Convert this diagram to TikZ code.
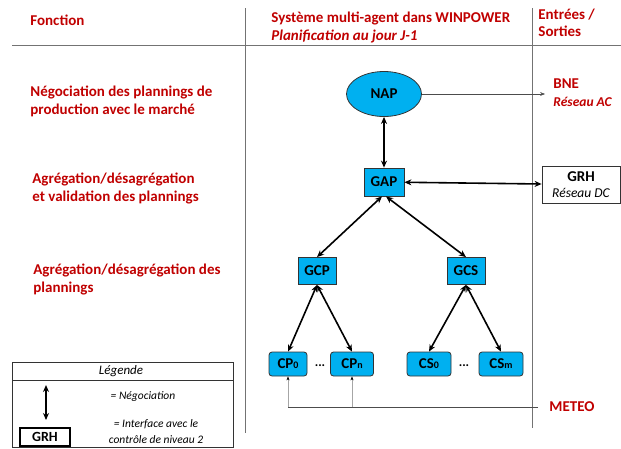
\documentclass[tikz,border=0pt]{standalone}
\usepackage{fontspec}
\setmainfont{Carlito}
\usetikzlibrary{arrows.meta, shapes.geometric}

\definecolor{titlered}{HTML}{C00000}
\definecolor{agentblue}{HTML}{00B0F0}

\begin{document}
\begin{tikzpicture}[x=1pt, y=-1pt, >=Stealth, thick,
  agent/.style={draw=black!80, fill=agentblue, font=\fontsize{15}{17}\selectfont\bfseries,
    inner sep=0pt},
  leaf/.style={agent, rounded corners=3pt, minimum height=24pt},
  redtxt/.style={text=titlered, font=\fontsize{15}{18}\selectfont\bfseries, align=left,
    inner sep=0pt},
  nego/.style={<->, line width=1.6pt, >={Stealth[length=7pt, width=6pt]}},
  sep/.style={black!55, line width=0.8pt},
  legtxt/.style={font=\fontsize{11.5}{16}\selectfont\itshape, inner sep=0pt, align=center}]

  \useasboundingbox (0,0) rectangle (621,448);

  % Column separators
  \draw[sep] (12,45) -- (621,45);
  \draw[sep] (245,8) -- (245,433);
  \draw[sep] (532,8) -- (532,428);

  % Column titles
  \node[redtxt, anchor=west] (fct) at (30,20) {Fonction};
  \node[redtxt, anchor=north west] (sma) at (271,12)
    {Système multi-agent dans WINPOWER\\\textit{Planification au jour J-1}};
  \node[redtxt, anchor=north west, font=\fontsize{15}{17}\selectfont\bfseries] (es) at (538,9)
    {Entrées /\\Sorties};

  % Functions
  \node[redtxt, anchor=west] (f1) at (30,101)
    {Négociation des plannings de\\production avec le marché};
  \node[redtxt, anchor=west] (f2) at (32,188)
    {Agrégation/désagrégation\\et validation des plannings};
  \node[redtxt, anchor=west] (f3) at (33,279)
    {Agrégation/désagrégation des\\plannings};

  % Agents
  \node[agent, ellipse, minimum width=75pt, minimum height=45pt] (nap) at (384,94) {NAP};
  \node[agent, minimum width=40pt, minimum height=28pt] (gap) at (384,182) {GAP};
  \node[agent, minimum width=38pt, minimum height=27pt] (gcp) at (317,271) {GCP};
  \node[agent, minimum width=38pt, minimum height=27pt] (gcs) at (466,271) {GCS};
  \node[leaf, minimum width=38pt] (cp0) at (288,364) {CP{\fontsize{10}{10}\selectfont 0}};
  \node[leaf, minimum width=43pt] (cpn) at (352,364) {CP{\fontsize{10}{10}\selectfont n}};
  \node[leaf, minimum width=44pt] (cs0) at (429,364) {CS{\fontsize{10}{10}\selectfont 0}};
  \node[leaf, minimum width=44pt] (csm) at (501,364) {CS{\fontsize{10}{10}\selectfont m}};
  \node[font=\fontsize{13}{13}\selectfont\bfseries] (dp) at (320,366) {...};
  \node[font=\fontsize{13}{13}\selectfont\bfseries] (ds) at (464,366) {...};

  % Inputs / outputs
  \node[redtxt, anchor=west] (bne) at (553,93)
    {BNE\\{\fontsize{13.5}{16}\selectfont\itshape Réseau AC}};
  \node[draw=black!80, line width=0.8pt, minimum width=78pt, minimum height=37pt, inner sep=0pt,
    align=center, font=\fontsize{15}{16}\selectfont\bfseries] (grh) at (581,184.5)
    {GRH\\{\fontsize{13.5}{15}\selectfont\itshape\mdseries Réseau DC}};
  \node[redtxt, anchor=west] (meteo) at (549,407) {METEO};

  % Links
  \draw[nego] (nap) -- (gap);
  \draw[->, thin, black!70] (nap.east) -- ([xshift=-8pt]bne.west |- nap.east);
  \draw[nego] (gap) -- (grh);
  \draw[nego] ([xshift=-2pt]gap.south) -- (gcp.north);
  \draw[nego] ([xshift=2pt]gap.south) -- (gcs.north);
  \draw[nego] (gcp.south) -- (cp0.north);
  \draw[nego] (gcp.south) -- (cpn.north);
  \draw[nego] (gcs.south) -- (cs0.north);
  \draw[nego] (gcs.south) -- (csm.north);

  % Weather data
  \draw[black!70, line width=0.8pt] ([xshift=-11pt]meteo.west) -- (cp0.south |- meteo.west);
  \draw[->, black!35, line width=0.8pt, >={Stealth[length=4pt, width=3pt, black]}]
    (cp0.south |- meteo.west) -- (cp0.south);
  \draw[->, black!35, line width=0.8pt, >={Stealth[length=4pt, width=3pt, black]}]
    (cpn.south |- meteo.west) -- (cpn.south);

  % Legend
  \draw[black!80, line width=0.8pt] (12,362) rectangle (233,447);
  \draw[black!80, line width=0.8pt] (12,380) -- (233,380);
  \node[legtxt, font=\fontsize{13}{16}\selectfont\itshape] (leg) at (121,371) {Légende};
  \coordinate (la) at (46,385);
  \coordinate (lb) at (46,420);
  \draw[nego] (la) -- (lb);
  \node[legtxt] (ln) at (143,397) {= Négociation};
  \node[draw=black, line width=1.2pt, minimum width=50pt, minimum height=18pt, inner sep=0pt,
    font=\fontsize{14}{15}\selectfont\bfseries] (lg) at (45,437) {GRH};
  \node[legtxt] (li) at (156,432) {= Interface avec le\\contrôle de niveau 2};

\end{tikzpicture}
\end{document}
